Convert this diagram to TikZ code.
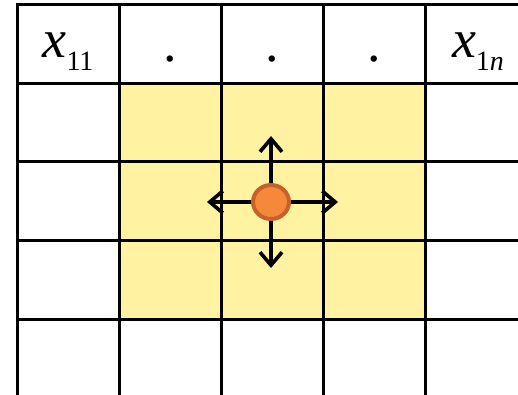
\documentclass[tikz,border=0pt]{standalone}
\usepackage{fontspec}
\setmainfont{Liberation Serif}
\usetikzlibrary{arrows.meta,shapes.geometric}
\definecolor{cellyellow}{RGB}{255,242,160}
\definecolor{dotfill}{RGB}{245,136,58}
\definecolor{dotedge}{RGB}{197,98,42}
\begin{document}
\begin{tikzpicture}[x=1pt,y=-1pt,
  gridline/.style={line width=3pt,black,line cap=rect},
  arr/.style={line width=3.6pt,black,-{Straight Barb[length=13pt,width=22pt,line width=3.6pt]}},
  bigtxt/.style={font=\fontsize{54}{54}\selectfont,inner sep=0pt,anchor=base},
  particle/.style={ellipse,draw=dotedge,fill=dotfill,line width=4pt,minimum width=36pt,minimum height=34pt,inner sep=0pt}]
\useasboundingbox (0,0) rectangle (518,395);
\fill[cellyellow] (119,84) rectangle (425,319);
\foreach \y in {5,84,162,240,319} \draw[gridline] (17,\y) -- (520,\y);
\foreach \x in {17,119,221,323,425} \draw[gridline] (\x,5) -- (\x,397);
\node[bigtxt] (x11) at (68,58) {\textit{x}\raisebox{-13pt}{\fontsize{28}{28}\selectfont 11}};
\node[bigtxt] (x1n) at (478,58) {\textit{x}\raisebox{-13pt}{\fontsize{28}{28}\selectfont 1\textit{n}}};
\node[bigtxt] (d1) at (170,62) {.};
\node[bigtxt] (d2) at (272,62) {.};
\node[bigtxt] (d3) at (374,62) {.};
\node[particle] (c) at (271,202) {};
\coordinate (up) at (271,136);
\coordinate (down) at (271,268);
\coordinate (left) at (207,202);
\coordinate (right) at (338,202);
\draw[arr] (c.north) -- (up);
\draw[arr] (c.south) -- (down);
\draw[arr] (c.west) -- (left);
\draw[arr] (c.east) -- (right);
\end{tikzpicture}
\end{document}
